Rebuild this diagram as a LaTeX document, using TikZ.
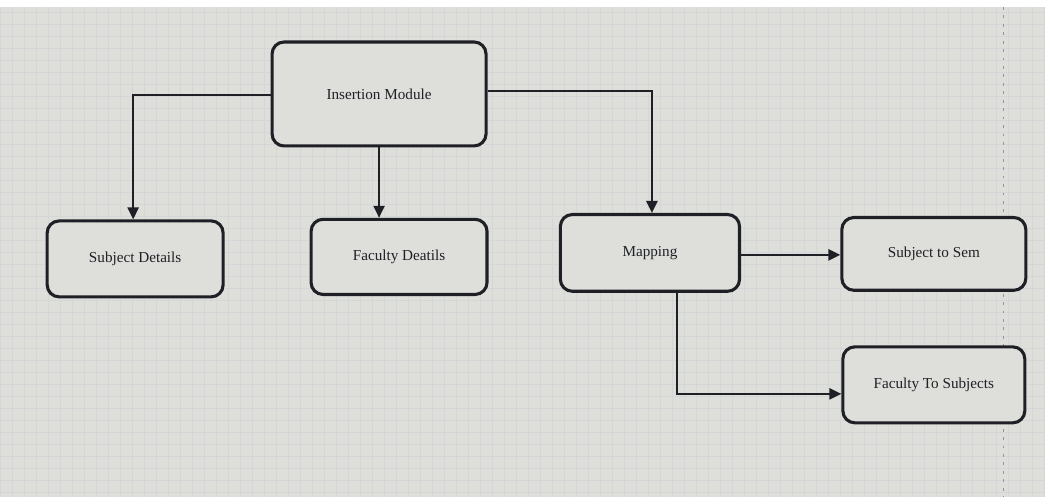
\documentclass[tikz,border=0pt]{standalone}
\usepackage{fontspec}
\setmainfont{Liberation Serif}
\usetikzlibrary{arrows.meta}
\definecolor{paper}{RGB}{222,223,218}
\definecolor{gridline}{RGB}{212,215,216}
\definecolor{ink}{RGB}{30,32,38}
\tikzset{
  box/.style={draw=ink, line width=2.2pt, rounded corners=0.3cm, fill=paper,
    font=\fontsize{10.8}{13}\selectfont, text=ink},
  link/.style={draw=ink, line width=1.4pt,
    -{Triangle[length=0.3cm,width=0.28cm]}},
}
\begin{document}
\begin{tikzpicture}[x=0.025cm, y=-0.025cm]
  % canvas and faint grid
  \fill[paper] (0,0) rectangle (1045,497);
  \fill[white] (0,0) rectangle (1045,7);
  \draw[gridline, line width=0.3pt, step=0.3cm] (0,7) grid (1045,497);
  \draw[gridline!70!black, line width=0.9pt, dash pattern=on 2pt off 4pt] (1004,7) -- (1004,497);

  % boxes
  \node[box, minimum width=5.35cm, minimum height=2.6cm] (ins) at (379,94) {Insertion Module};
  \node[box, minimum width=4.4cm, minimum height=1.9cm] (subj) at (135,259) {Subject Details};
  \node[box, minimum width=4.4cm, minimum height=1.88cm] (fac) at (399,257) {Faculty Deatils};
  \node[box, minimum width=4.48cm, minimum height=1.92cm] (map) at (650,253) {Mapping};
  \node[box, minimum width=4.6cm, minimum height=1.82cm] (sts) at (934,254) {Subject to Sem};
  \node[box, minimum width=4.55cm, minimum height=1.9cm] (fts) at (934,385) {Faculty To Subjects};

  % connectors
  \draw[link] (ins.west |- 0,95) -| (subj.north -| 133,0);
  \draw[link] (ins.south -| 379,0) -- (fac.north -| 379,0);
  \draw[link] (ins.east |- 0,91) -| (map.north -| 652,0);
  \draw[link] (map.east |- 0,255) -- (sts.west |- 0,255);
  \draw[link] (map.south -| 677,0) |- (fts.west |- 0,394);
\end{tikzpicture}
\end{document}
